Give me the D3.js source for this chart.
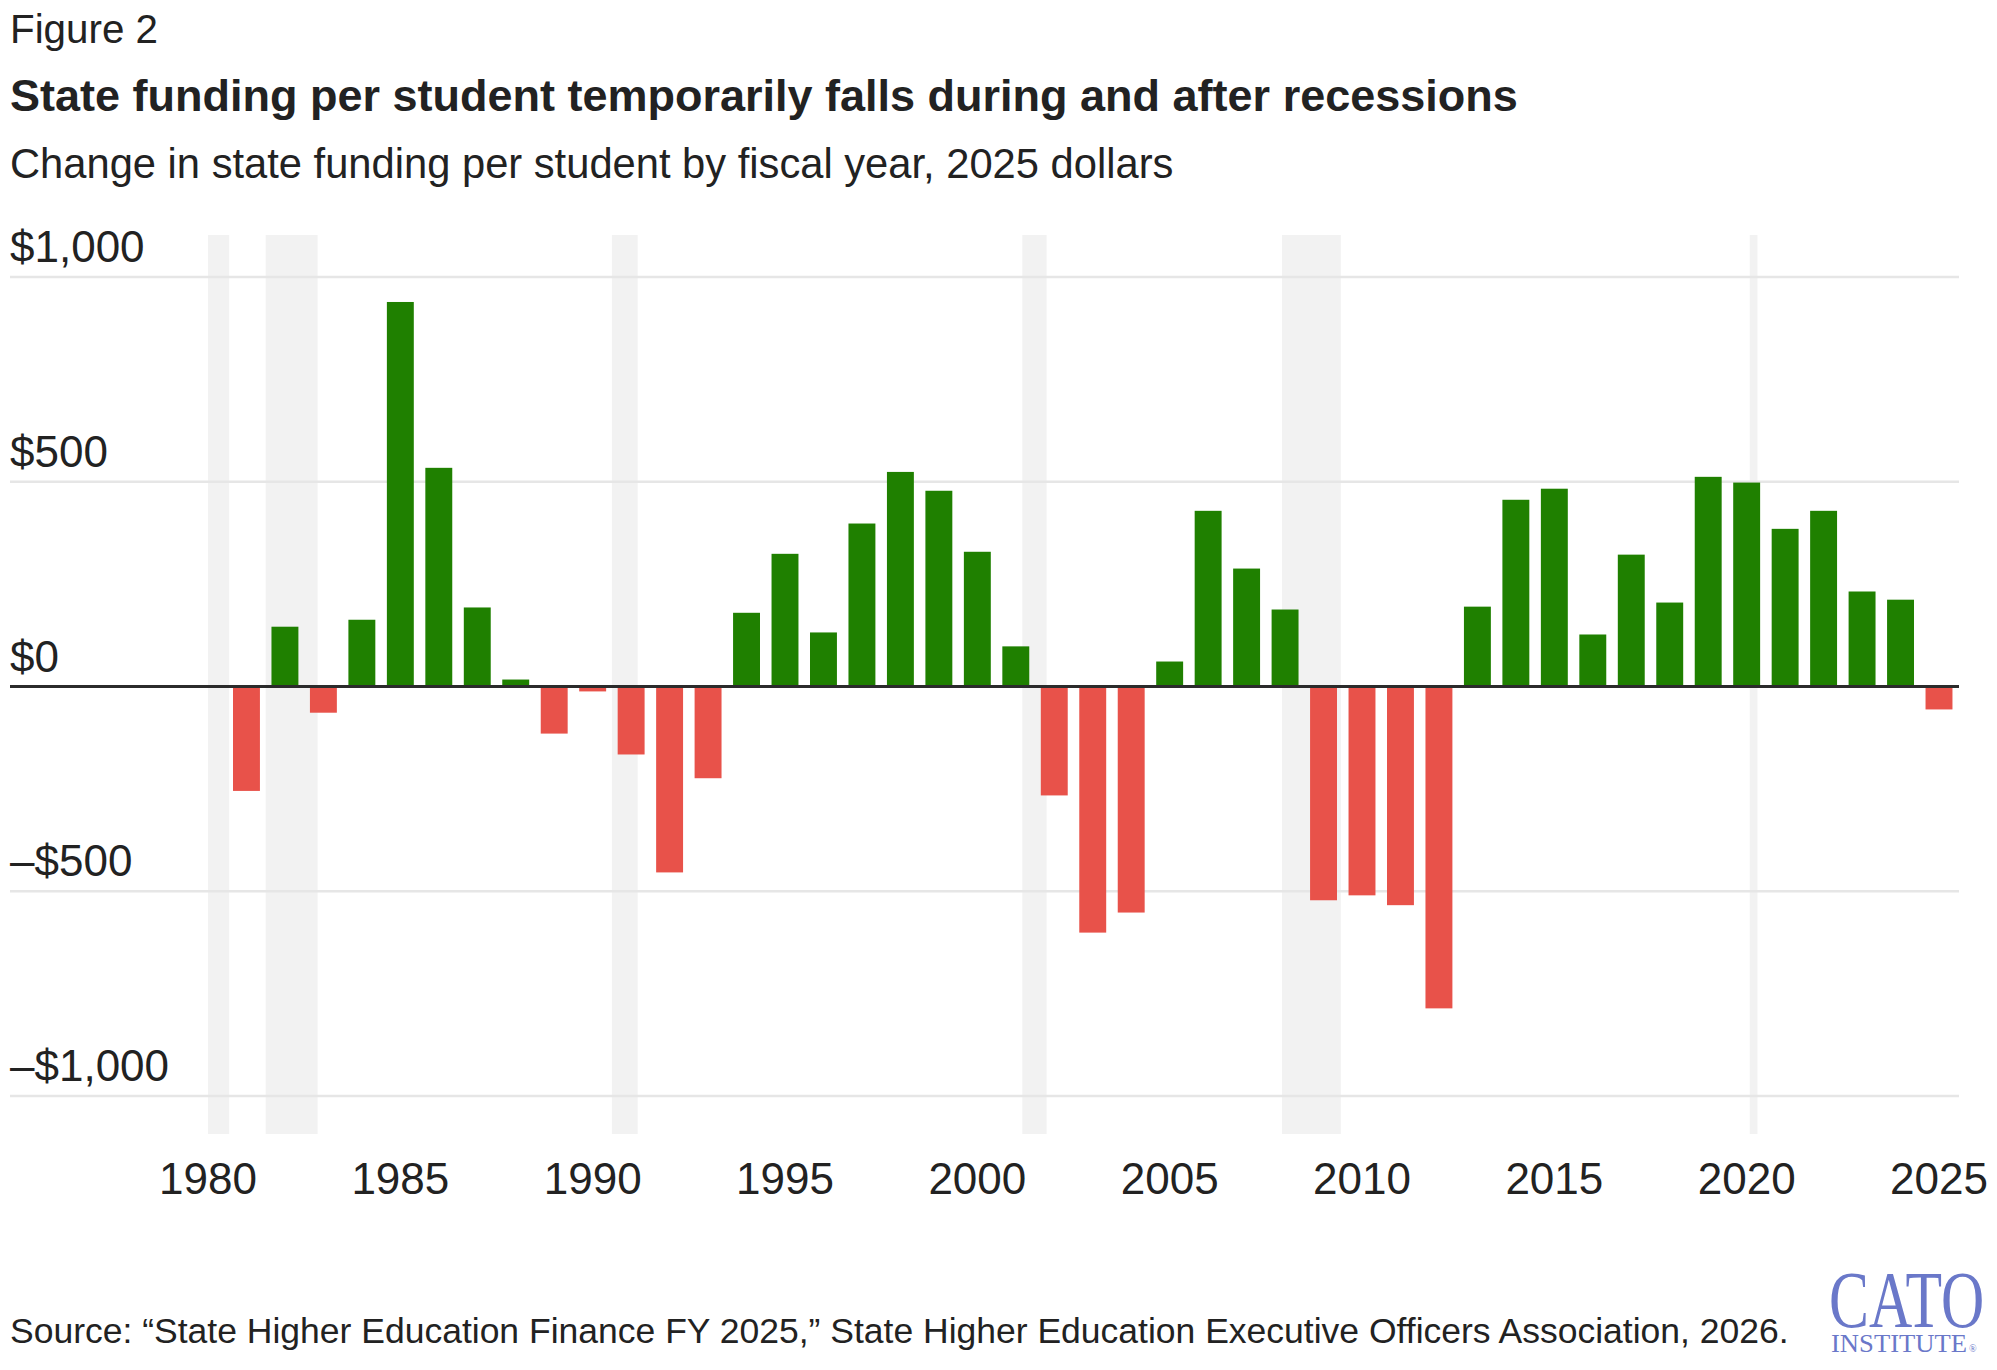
<!DOCTYPE html>
<meta charset="utf-8">
<style>
  body { margin: 0; background: #fff; }
  svg text { fill: #222; }
  .tick-label { font-family: "Liberation Sans", Arial, sans-serif; font-size: 44px; }
  .head { font-family: "Liberation Sans", Arial, sans-serif; }
  .logo { font-family: "Liberation Serif", "DejaVu Serif", serif; fill: #6a78c9 !important; }
</style>

<svg width="1997" height="1370"></svg>
<script src="https://d3js.org/d3.v7.min.js"></script>
<script>
var svg = d3.select("svg"),
    width = +svg.attr("width"),
    height = +svg.attr("height");

// Data
var years = [1981, 1982, 1983, 1984, 1985, 1986, 1987, 1988, 1989, 1990,
             1991, 1992, 1993, 1994, 1995, 1996, 1997, 1998, 1999, 2000,
             2001, 2002, 2003, 2004, 2005, 2006, 2007, 2008, 2009, 2010,
             2011, 2012, 2013, 2014, 2015, 2016, 2017, 2018, 2019, 2020,
             2021, 2022, 2023, 2024, 2025];
var change = [-255, 146, -64, 163, 939, 534, 193, 17, -115, -12,
              -166, -454, -224, 180, 324, 132, 398, 524, 478, 329,
              98, -266, -601, -552, 61, 429, 288, 188, -522, -510,
              -534, -786, 195, 456, 483, 127, 322, 205, 512, 498,
              385, 429, 232, 212, -56];
// recession periods, as decimal years
var recessionStart = [1980.0, 1981.5, 1990.5, 2001.17, 2007.92, 2020.08];
var recessionEnd   = [1980.55, 1982.85, 1991.17, 2001.8, 2009.45, 2020.28];
var xTicks = [1980, 1985, 1990, 1995, 2000, 2005, 2010, 2015, 2020, 2025];
var yTicks = [1000, 500, 0, -500, -1000];

// Scales
var x = d3.scaleLinear().domain([1980, 2025]).range([208, 1939]);
var y = d3.scaleLinear().domain([-1000, 1000]).range([1096, 277]);
var barW = (x(1981) - x(1980)) * 0.7;
var gridLeft = 10, gridRight = 1959;
var bandTop = 235, bandBottom = 1134;

function money(v) {
  var s = "$" + d3.format(",")(Math.abs(v));
  return v < 0 ? "\u2013" + s : s;
}

// Recession bands
svg.append("g").selectAll("rect")
  .data(recessionStart)
  .enter().append("rect")
    .attr("x", function(d) { return x(d); })
    .attr("width", function(d, i) { return x(recessionEnd[i]) - x(d); })
    .attr("y", bandTop)
    .attr("height", bandBottom - bandTop)
    .attr("fill", "#f2f2f2");

// Grid lines + y labels
var yAxis = svg.append("g");
yAxis.selectAll("line")
  .data(yTicks.filter(function(d) { return d !== 0; }))
  .enter().append("line")
    .attr("x1", gridLeft).attr("x2", gridRight)
    .attr("y1", function(d) { return y(d); })
    .attr("y2", function(d) { return y(d); })
    .attr("stroke", "#e6e6e6")
    .attr("stroke-width", 2.5);
yAxis.selectAll("text")
  .data(yTicks)
  .enter().append("text")
    .attr("class", "tick-label")
    .attr("x", gridLeft)
    .attr("y", function(d) { return y(d) - 15; })
    .text(money);

// Bars
svg.append("g").selectAll("rect")
  .data(change)
  .enter().append("rect")
    .attr("x", function(d, i) { return x(years[i]) - barW / 2; })
    .attr("width", barW)
    .attr("y", function(d) { return y(Math.max(0, d)); })
    .attr("height", function(d) { return Math.abs(y(d) - y(0)); })
    .attr("fill", function(d) { return d >= 0 ? "#1f8000" : "#e8524a"; });

// Zero line
svg.append("line")
  .attr("x1", gridLeft).attr("x2", gridRight)
  .attr("y1", y(0)).attr("y2", y(0))
  .attr("stroke", "#2b2b2b")
  .attr("stroke-width", 3);

// X labels
svg.append("g").selectAll("text")
  .data(xTicks)
  .enter().append("text")
    .attr("class", "tick-label")
    .attr("x", function(d) { return x(d); })
    .attr("y", 1194)
    .attr("text-anchor", "middle")
    .text(function(d) { return d; });

// Titles: size from cap height, fitted to the reference width
function headText(txt, xPos, yPos, size, targetW, weight) {
  var t = svg.append("text")
    .attr("class", "head")
    .attr("x", xPos).attr("y", yPos)
    .style("font-size", size + "px")
    .style("font-weight", weight || "normal")
    .text(txt);
  var w = t.node().getComputedTextLength();
  if (w > targetW) {
    t.attr("textLength", targetW).attr("lengthAdjust", "spacingAndGlyphs");
  } else {
    t.style("font-size", (size * targetW / w) + "px");
  }
  return t;
}
headText("Figure 2", 10, 43, 37, 148);
headText("State funding per student temporarily falls during and after recessions", 10, 111, 39.5, 1508, "bold");
headText("Change in state funding per student by fiscal year, 2025 dollars", 10, 178, 37.5, 1164);
headText("Source: \u201cState Higher Education Finance FY 2025,\u201d State Higher Education Executive Officers Association, 2026.", 10, 1343, 35, 1779);

// Logo
svg.append("text")
  .attr("class", "logo")
  .attr("transform", "translate(1829,1327) scale(1.07,1.42)")
  .style("font-size", "56px")
  .text("CATO");
svg.append("text")
  .attr("class", "logo")
  .attr("x", 1831).attr("y", 1352)
  .attr("textLength", 136)
  .attr("lengthAdjust", "spacingAndGlyphs")
  .style("font-size", "25px")
  .text("INSTITUTE");
svg.append("text")
  .attr("class", "logo")
  .attr("x", 1969).attr("y", 1352)
  .style("font-size", "10px")
  .text("\u00ae");
</script>
